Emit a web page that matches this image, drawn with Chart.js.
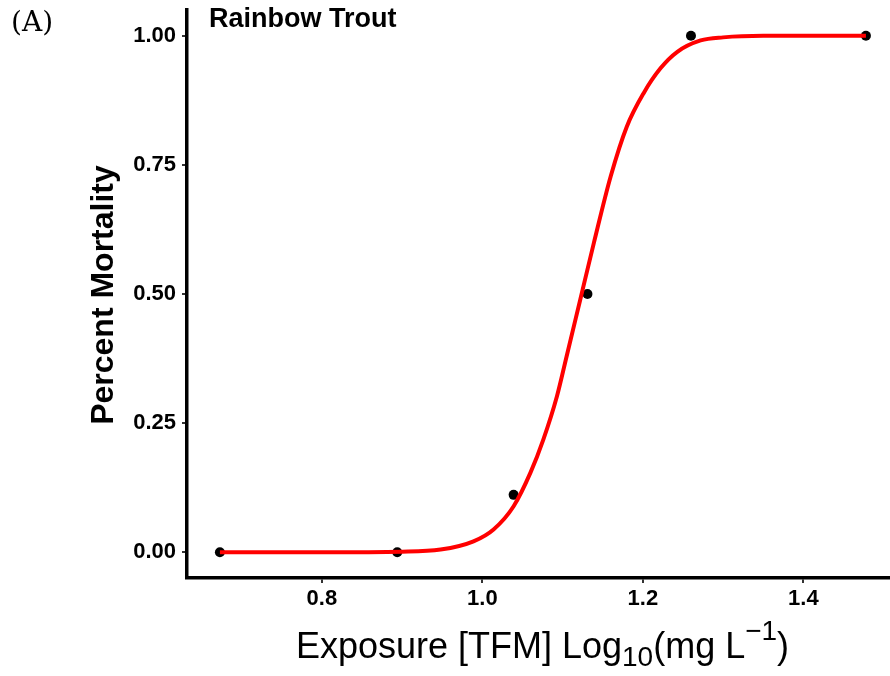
<!DOCTYPE html>
<html>
<head>
<meta charset="utf-8">
<script src="https://cdn.jsdelivr.net/npm/chart.js@4.4.0/dist/chart.umd.min.js"></script>
<style>
  html, body { margin: 0; padding: 0; background: #fff; }
  canvas { display: block; }
</style>
</head>
<body>
<canvas id="doseChart" width="890" height="676"></canvas>
<script>
// Observed mortality at each exposure concentration
const doseLog = [0.673, 0.894, 1.039, 1.131, 1.260, 1.478];
const mortality = [0, 0, 0.111, 0.5, 1, 1];

// Fitted dose-response curve
const fitDose = [0.673, 0.80, 0.90, 0.948, 0.989, 1.014, 1.039, 1.060, 1.076, 1.093, 1.105,
                 1.122, 1.139, 1.160, 1.180, 1.201, 1.222, 1.243, 1.272, 1.30, 1.35, 1.40, 1.478];
const fitMortality = [0, 0, 0.001, 0.005, 0.021, 0.044, 0.089, 0.154, 0.218, 0.302, 0.379,
                      0.489, 0.599, 0.728, 0.824, 0.889, 0.937, 0.969, 0.991, 0.997, 1.0, 1.0, 1.0];

const xTickValues = [0.8, 1.0, 1.2, 1.4];
const yTickValues = [0, 0.25, 0.5, 0.75, 1.0];

const SANS = '"Liberation Sans", Arial, Helvetica, sans-serif';
const SERIF = '"DejaVu Serif", "Liberation Serif", serif';

// Panel tag, species name, axis titles (with sub/superscripts)
const annotations = {
    id: 'annotations',
    afterDraw(chart) {
        const ctx = chart.ctx;
        ctx.save();
        ctx.fillStyle = '#000';
        ctx.textBaseline = 'alphabetic';

        ctx.font = '28px ' + SERIF;
        ctx.textAlign = 'left';
        ctx.fillText('(A)', 11, 31);

        ctx.font = 'bold 27px ' + SANS;
        ctx.fillText('Rainbow Trout', 209, 27);

        // y title
        ctx.save();
        ctx.translate(113, 295);
        ctx.rotate(-Math.PI / 2);
        ctx.font = 'bold 32px ' + SANS;
        ctx.textAlign = 'center';
        ctx.fillText('Percent Mortality', 0, 0);
        ctx.restore();

        // x title: Exposure [TFM] Log10(mg L^-1)
        const parts = [
            { t: 'Exposure [TFM] Log', size: 36, dy: 0 },
            { t: '10', size: 28, dy: 8 },
            { t: '(mg L', size: 36, dy: 0 },
            { t: '\u22121', size: 28, dy: -18 },
            { t: ')', size: 36, dy: 0 }
        ];
        let total = 0;
        parts.forEach(p => {
            ctx.font = p.size + 'px ' + SANS;
            p.w = ctx.measureText(p.t).width;
            total += p.w;
        });
        let x = 542.5 - total / 2;
        const base = 658;
        ctx.textAlign = 'left';
        parts.forEach(p => {
            ctx.font = p.size + 'px ' + SANS;
            ctx.fillText(p.t, x, base + p.dy);
            x += p.w;
        });
        ctx.restore();
    }
};

const ctx = document.getElementById('doseChart');
new Chart(ctx, {
    type: 'scatter',
    data: {
        datasets: [
            {
                label: 'Fit',
                data: fitDose.map((d, i) => ({ x: d, y: fitMortality[i] })),
                showLine: true,
                borderColor: '#ff0000',
                borderWidth: 4,
                pointRadius: 0,
                cubicInterpolationMode: 'monotone',
                order: 0
            },
            {
                label: 'Observed',
                data: doseLog.map((d, i) => ({ x: d, y: mortality[i] })),
                backgroundColor: '#000',
                borderColor: '#000',
                pointRadius: 5,
                pointBorderWidth: 0,
                order: 1
            }
        ]
    },
    options: {
        responsive: false,
        animation: false,
        layout: { autoPadding: false, padding: { top: 10, left: 0, right: 0, bottom: 0 } },
        plugins: {
            legend: { display: false },
            tooltip: { enabled: false }
        },
        scales: {
            x: {
                type: 'linear',
                min: 0.632,
                max: 1.508,
                afterBuildTicks: scale => {
                    scale.ticks = xTickValues.map(v => ({ value: v }));
                },
                afterFit: scale => {
                    scale.height = 98;
                    scale.paddingLeft = 0;
                    scale.paddingRight = 0;
                },
                border: { display: true, color: '#000', width: 3.5 },
                grid: {
                    drawOnChartArea: false,
                    drawTicks: true,
                    tickLength: 5,
                    tickColor: '#333',
                    lineWidth: 2
                },
                ticks: {
                    padding: 3,
                    color: '#000',
                    font: { family: SANS, size: 22, weight: 'bold' },
                    callback: v => Number(v).toFixed(1)
                }
            },
            y: {
                type: 'linear',
                min: -0.05,
                max: 1.05,
                afterBuildTicks: scale => {
                    scale.ticks = yTickValues.map(v => ({ value: v }));
                },
                afterFit: scale => {
                    scale.width = 187;
                    scale.paddingTop = 0;
                    scale.paddingBottom = 0;
                },
                border: { display: true, color: '#000', width: 3.5 },
                grid: {
                    drawOnChartArea: false,
                    drawTicks: true,
                    tickLength: 5,
                    tickColor: '#333',
                    lineWidth: 2
                },
                ticks: {
                    padding: 6,
                    color: '#000',
                    font: { family: SANS, size: 22, weight: 'bold' },
                    callback: v => Number(v).toFixed(2)
                }
            }
        }
    },
    plugins: [annotations]
});
</script>
</body>
</html>
